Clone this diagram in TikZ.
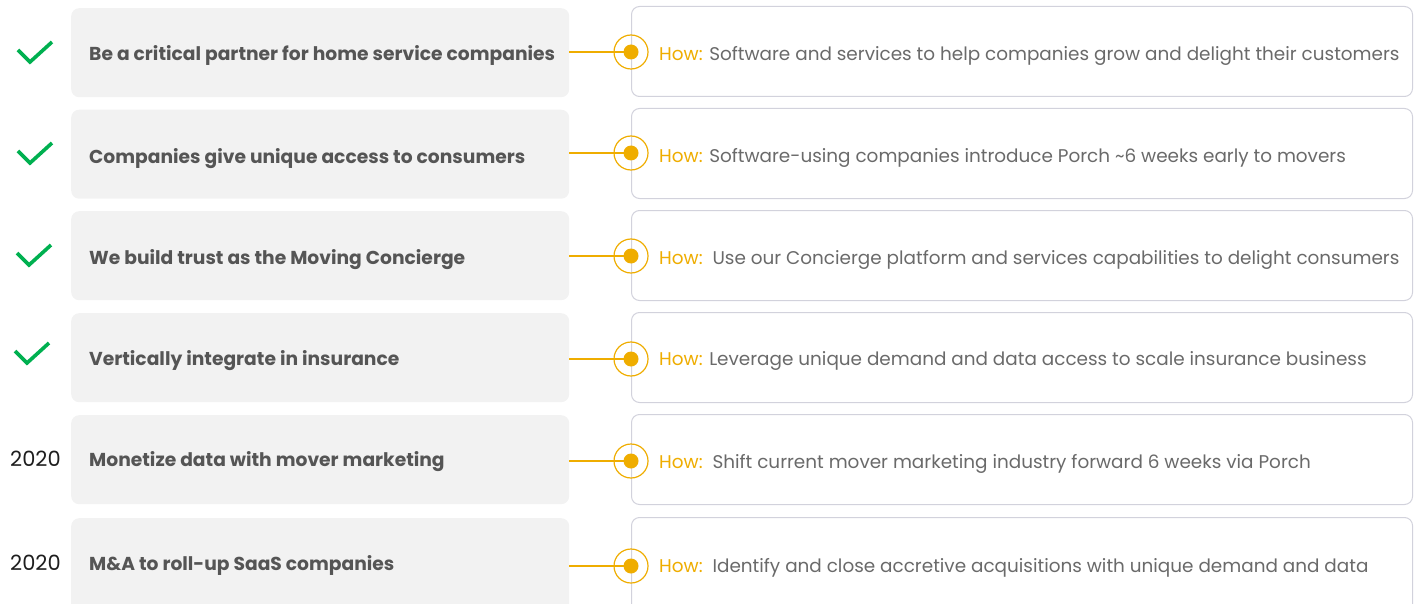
\documentclass[tikz,border=0pt]{standalone}
\usepackage{fontspec}
\setmainfont{Poppins}
\definecolor{leftfill}{HTML}{F2F2F2}
\definecolor{lefttext}{HTML}{555555}
\definecolor{righttext}{HTML}{6A6A6A}
\definecolor{rightline}{HTML}{D2D2DC}
\definecolor{gold}{HTML}{EFAD00}
\definecolor{checkgreen}{HTML}{00B050}
\definecolor{yeartext}{HTML}{1E1E1E}
\begin{document}
\begin{tikzpicture}[x=1pt,y=-1pt,
  goalbox/.style={fill=leftfill, rounded corners=8pt, minimum width=498pt, minimum height=89pt,
    inner sep=0pt, anchor=north west},
  howbox/.style={draw=rightline, line width=1pt, fill=white, rounded corners=8pt, minimum width=781pt, minimum height=90pt,
    inner sep=0pt, anchor=north west},
  goaltext/.style={anchor=base west, inner sep=0pt, text=lefttext, font=\fontsize{18.7}{21}\selectfont\bfseries},
  howtext/.style={anchor=base west, inner sep=0pt, text=righttext, font=\fontsize{18.4}{21}\selectfont},
  ring/.style={circle, draw=gold, line width=1.2pt, minimum size=34pt, inner sep=0pt},
  dot/.style={circle, fill=gold, minimum size=15pt, inner sep=0pt},
  link/.style={draw=gold, line width=1.5pt},
  tick/.style={draw=checkgreen, line width=3.6pt, line join=miter},
  yearlabel/.style={anchor=west, text=yeartext, font=\fontsize{21}{24}\selectfont, inner sep=0pt}
]
\useasboundingbox (0,0) rectangle (1420,604);
\begin{scope}
\clip (0,0) rectangle (1420,604);
% left boxes
\node[goalbox] (L1) at (71,8) {};
\node[goalbox] (L2) at (71,109.5) {};
\node[goalbox] (L3) at (71,211) {};
\node[goalbox] (L4) at (71,313) {};
\node[goalbox] (L5) at (71,415) {};
\node[goalbox, minimum height=100pt] (L6) at (71,518) {};
% right boxes
\node[howbox] (R1) at (631,6) {};
\node[howbox] (R2) at (631,108) {};
\node[howbox] (R3) at (631,210) {};
\node[howbox] (R4) at (631,312) {};
\node[howbox] (R5) at (631,414) {};
\node[howbox, minimum height=100pt] (R6) at (631,517) {};
\end{scope}
% left texts
\node[goaltext] (LT1) at (89,61) {Be a critical partner for home service companies};
\node[goaltext] (LT2) at (89,164) {Companies give unique access to consumers};
\node[goaltext] (LT3) at (89,264) {We build trust as the Moving Concierge};
\node[goaltext] (LT4) at (89,365) {Vertically integrate in insurance};
\node[goaltext] (LT5) at (89,466) {Monetize data with mover marketing};
\node[goaltext] (LT6) at (89,570) {M\&A to roll-up SaaS companies};
% right texts
\node[howtext] (RT1) at (659,61) {\textcolor{gold}{How:} Software and services to help companies grow and delight their customers};
\node[howtext] (RT2) at (659,163) {\textcolor{gold}{How:} Software-using companies introduce Porch \textasciitilde6 weeks early to movers};
\node[howtext] (RT3) at (659,264) {\textcolor{gold}{How:}\ \ Use our Concierge platform and services capabilities to delight consumers};
\node[howtext] (RT4) at (659,365) {\textcolor{gold}{How:} Leverage unique demand and data access to scale insurance business};
\node[howtext] (RT5) at (659,468) {\textcolor{gold}{How:}\ \ Shift current mover marketing industry forward 6 weeks via Porch};
\node[howtext] (RT6) at (659,572) {\textcolor{gold}{How:}\ \ Identify and close accretive acquisitions with unique demand and data};
% connectors
\foreach \i/\y in {1/52,2/153,3/256,4/359,5/461,6/566}{
  \node[ring] (O\i) at (631,\y) {};
  \path[link] (L\i.east |- O\i) -- (O\i.center);
  \node[dot] (D\i) at (O\i) {};
}
% check marks
\foreach \y in {53,154}{
  \draw[tick] (18,\y-3) -- (30,\y+9) -- (52,\y-11);
}
\draw[tick] (17,256-3) -- (29,256+9) -- (51,256-11);
\draw[tick] (15,354-3) -- (27,354+9) -- (49,354-11);
% years
\node[yearlabel] (Y5) at (10,459) {2020};
\node[yearlabel] (Y6) at (10,563) {2020};
\end{tikzpicture}
\end{document}
